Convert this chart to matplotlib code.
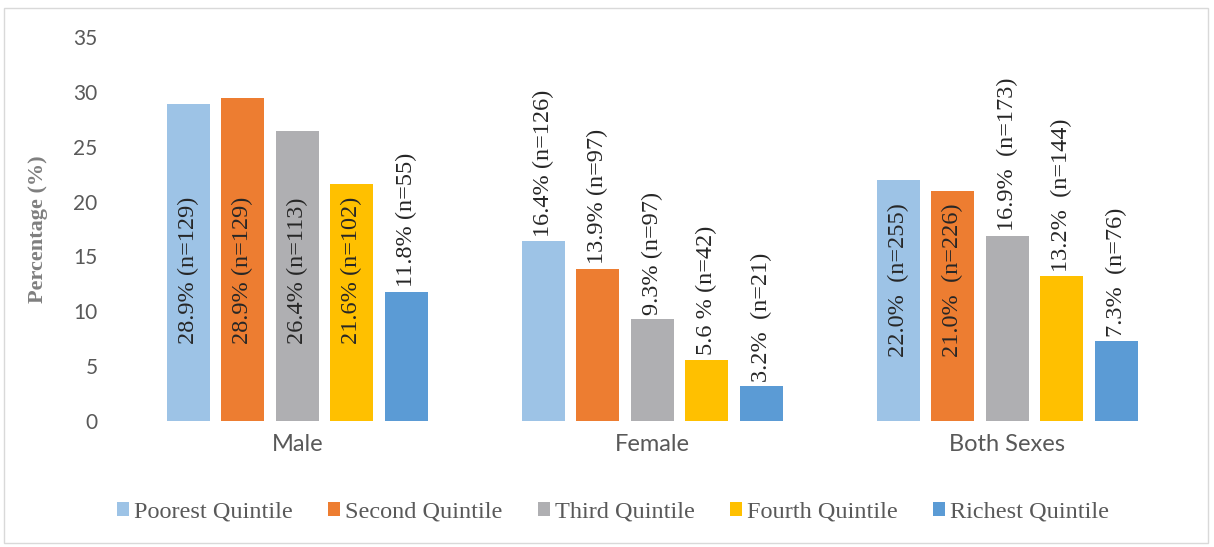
import matplotlib
matplotlib.use("Agg")
import matplotlib.pyplot as plt
from matplotlib.patches import Rectangle
import numpy as np

categories = ["Male", "Female", "Both Sexes"]
series_names = ["Poorest Quintile", "Second Quintile", "Third Quintile",
                "Fourth Quintile", "Richest Quintile"]
poorest = [28.9, 16.4, 22.0]
second = [29.4, 13.9, 21.0]
third = [26.4, 9.3, 16.9]
fourth = [21.6, 5.6, 13.2]
richest = [11.8, 3.2, 7.3]
labels_poorest = ["28.9% (n=129)", "16.4% (n=126)", "22.0%  (n=255)"]
labels_second = ["28.9% (n=129)", "13.9% (n=97)", "21.0%  (n=226)"]
labels_third = ["26.4% (n=113)", "9.3% (n=97)", "16.9%  (n=173)"]
labels_fourth = ["21.6% (n=102)", "5.6 % (n=42)", "13.2%  (n=144)"]
labels_richest = ["11.8% (n=55)", "3.2%  (n=21)", "7.3%  (n=76)"]
yticks = [0, 5, 10, 15, 20, 25, 30, 35]

values = [poorest, second, third, fourth, richest]
labels = [labels_poorest, labels_second, labels_third, labels_fourth, labels_richest]
colors = ["#9DC3E6", "#ED7D31", "#AFAFB2", "#FFC000", "#5B9BD5"]

# label placement style: inside (anchored at a fixed baseline) or outside
inside = {0: [True, True, True, True, False],
          1: [False] * 5,
          2: [True, True, False, False, False]}
inside_base = {0: 7.0, 2: 5.8}

SERIF = "Liberation Serif"
SANS = "Lato"

fig = plt.figure(figsize=(12.14, 5.47), dpi=100)
ax = fig.add_axes([0.0988, 0.2303, 0.8772, 0.7021])

x = np.arange(len(categories))
pitch = 0.1535
width = 0.121
handles = []
for i, (vals, labs, col, name) in enumerate(zip(values, labels, colors, series_names)):
    xs = x + (i - 2) * pitch
    b = ax.bar(xs, vals, width, color=col, label=name, zorder=2)
    handles.append(b)
    for g, (xx, v, lab) in enumerate(zip(xs, vals, labs)):
        if inside.get(g, [False] * 5)[i]:
            t = ax.text(xx, inside_base[g], lab, rotation=90, ha="center", va="bottom",
                        fontsize=17.5, color="#262626")
        else:
            t = ax.annotate(lab, (xx, v), xytext=(0, 3), textcoords="offset points",
                            rotation=90, ha="center", va="bottom",
                            fontsize=17.5, color="#262626")
        t.set_fontfamily(SERIF)

ax.set_xlim(-0.5, 2.5)
ax.set_ylim(0, 35)
ax.set_yticks(yticks)
ax.set_yticklabels([str(t) for t in yticks], fontsize=15, color="#595959", family=SANS)
ax.set_xticks(x)
ax.set_xticklabels(categories, fontsize=17, color="#595959", family=SANS)
ax.tick_params(axis="both", length=0)
ax.tick_params(axis="y", pad=16)
ax.tick_params(axis="x", pad=9)
for s in ax.spines.values():
    s.set_visible(False)
ax.set_ylabel("Percentage (%)", fontsize=16, fontweight="bold", color="#7F7F7F",
              family=SERIF, labelpad=18)

leg = fig.legend(handles=handles, labels=series_names, loc="center",
                 bbox_to_anchor=(0.505, 0.064), ncol=5, frameon=False,
                 fontsize=17.5,
                 handlelength=0.5, handleheight=0.5, handletextpad=0.2,
                 columnspacing=1.45)
for t in leg.get_texts():
    t.set_color("#595959")
    t.set_fontfamily(SERIF)

fig.patches.append(Rectangle((4 / 1214, 4 / 547), 1 - 10 / 1214, 1 - 12 / 547,
                             transform=fig.transFigure, fill=False,
                             edgecolor="#D9D9D9", linewidth=1))

fig.savefig("out.png", dpi=100)
